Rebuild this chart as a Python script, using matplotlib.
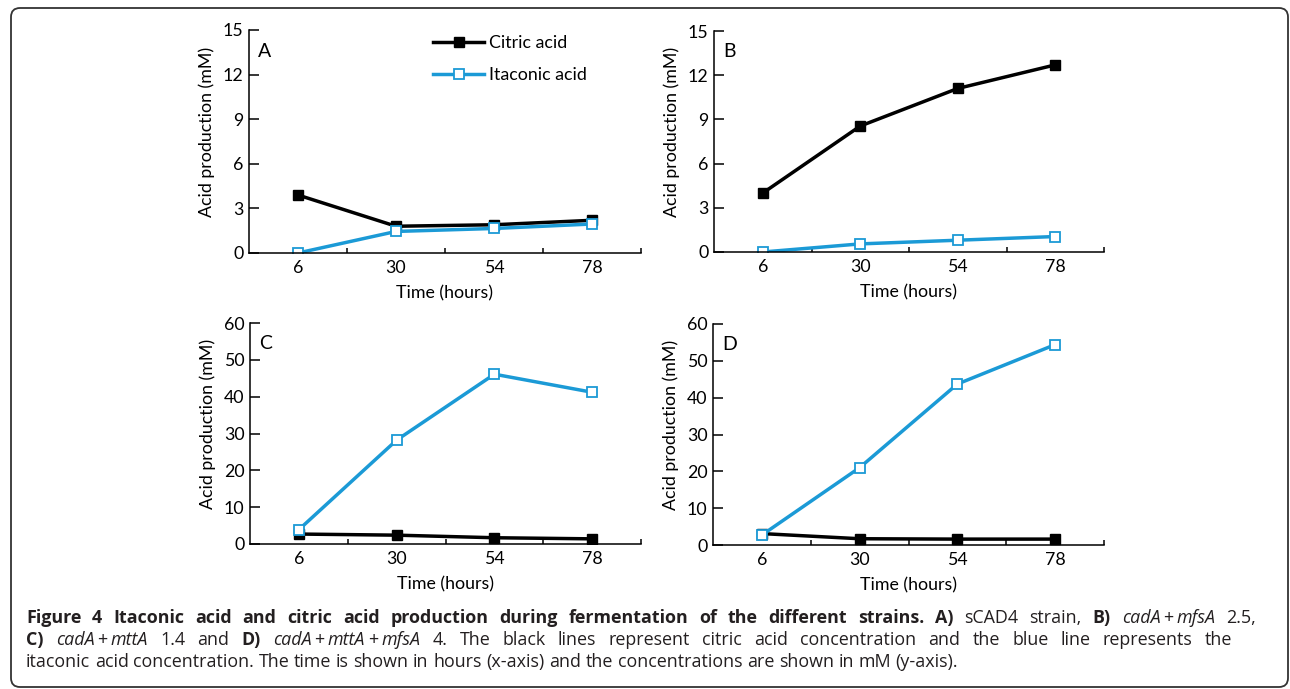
import matplotlib
matplotlib.use("Agg")
import matplotlib.pyplot as plt
from matplotlib.patches import FancyBboxPatch
from matplotlib.transforms import IdentityTransform

# ---------------- data ----------------
time_h = [6, 30, 54, 78]
time_labels = ["6", "30", "54", "78"]

citric_A = [3.9, 1.8, 1.9, 2.2]
itaconic_A = [0.0, 1.45, 1.65, 1.95]
citric_B = [4.0, 8.55, 11.1, 12.7]
itaconic_B = [0.0, 0.55, 0.8, 1.05]
citric_C = [2.7, 2.4, 1.7, 1.4]
itaconic_C = [3.9, 28.2, 46.1, 41.2]
citric_D = [3.1, 1.7, 1.6, 1.6]
itaconic_D = [2.7, 21.0, 43.7, 54.4]

panel_letters = ["A", "B", "C", "D"]
yticks_top = [0, 3, 6, 9, 12, 15]
yticks_bottom = [0, 10, 20, 30, 40, 50, 60]
series_names = ["Citric acid", "Itaconic acid"]

W, H = 1290, 689
FONT = ["Lato", "DejaVu Sans"]
CAP_FONT = ["Open Sans", "DejaVu Sans"]
plt.rcParams["font.family"] = FONT

BLACK = "#000000"
BLUE = "#1b9ad6"
FS = 12.8

fig = plt.figure(figsize=(W / 100, H / 100), dpi=100)

# axes boxes in pixels: left, right, top, bottom
boxes = [(249, 641, 30, 253), (714, 1104, 31, 252),
         (250, 641, 323, 544), (713, 1104, 324, 545)]
data = [(citric_A, itaconic_A, yticks_top),
        (citric_B, itaconic_B, yticks_top),
        (citric_C, itaconic_C, yticks_bottom),
        (citric_D, itaconic_D, yticks_bottom)]

xpos = list(range(len(time_h)))

for i, ((l, r, t, b), (cit, ita, yt)) in enumerate(zip(boxes, data)):
    ax = fig.add_axes([l / W, 1 - b / H, (r - l) / W, (b - t) / H])
    ax.plot(xpos, cit, color=BLACK, lw=2.5, marker="s", ms=7.4,
            mfc=BLACK, mec=BLACK, label=series_names[0], zorder=3)
    ax.plot(xpos, ita, color=BLUE, lw=2.5, marker="s", ms=7.4,
            mfc="white", mec=BLUE, mew=1.3, label=series_names[1], zorder=4)
    ax.set_xlim(-0.5, len(time_h) - 0.5)
    ax.set_ylim(yt[0], yt[-1])
    ax.set_yticks(yt)
    ax.set_yticklabels([str(v) for v in yt])
    ax.set_xticks(xpos)
    ax.set_xticklabels(time_labels)
    ax.set_xticks([p + 0.5 for p in xpos], minor=True)
    ax.tick_params(axis="x", which="major", length=0, pad=5, labelsize=FS)
    ax.tick_params(axis="x", which="minor", direction="in", length=3.5, width=1.1)
    ax.tick_params(axis="y", which="major", direction="in", length=7, width=1.1,
                   pad=4, labelsize=FS)
    for s in ["top", "right"]:
        ax.spines[s].set_visible(False)
    for s in ["left", "bottom"]:
        ax.spines[s].set_linewidth(1.1)
    ax.set_ylabel("Acid production (mM)", fontsize=FS)
    ax.yaxis.set_label_coords(-0.087, 0.545)
    ax.set_xlabel("Time (hours)", fontsize=FS)
    ax.xaxis.set_label_coords(0.5, -0.145)
    ax.text(0.023, 0.905, panel_letters[i], transform=ax.transAxes,
            fontsize=14, ha="left", va="center")
    for sp in ax.spines.values():
        sp.set_zorder(5)
    if i == 0:
        ax.legend(loc="upper left", bbox_to_anchor=(0.469, 0.978), frameon=False,
                  fontsize=FS, handlelength=2.9, handletextpad=0.28,
                  labelspacing=0.92, borderpad=0.0, borderaxespad=0.0)

# ---------------- rounded border ----------------
border = FancyBboxPatch((11, H - 687), 1277, 679,
                        boxstyle="round,pad=0,rounding_size=9",
                        transform=IdentityTransform(), fill=False,
                        ec="#333333", lw=1.3)
fig.patches.append(border)

# ---------------- caption ----------------
# each word is a list of (text, style) runs; b = bold, i = italic, r = regular
def words(text, style):
    return [[(w, style)] for w in text.split()]


CAD_MFS = [("cadA", "i"), ("+", "p"), ("mfsA", "i")]
CAD_MTT = [("cadA", "i"), ("+", "p"), ("mttA", "i")]
CAD_MTT_MFS = [("cadA", "i"), ("+", "p"), ("mttA", "i"), ("+", "p"), ("mfsA", "i")]

line1 = (words("Figure 4 Itaconic acid and citric acid production during "
               "fermentation of the different strains. A)", "b")
         + words("sCAD4 strain,", "r") + [[("B)", "b")], CAD_MFS, [("2.5,", "r")]])
line2 = ([[("C)", "b")], CAD_MTT] + words("1.4 and", "r") + [[("D)", "b")], CAD_MTT_MFS]
         + words("4. The black lines represent citric acid concentration and "
                 "the blue line represents the", "r"))
line3 = words("itaconic acid concentration. The time is shown in hours "
              "(x-axis) and the concentrations are shown in mM (y-axis).", "r")

renderer = fig.canvas.get_renderer()
CAP_COLOR = "#231f20"
PLUS_PAD = 3.0


def make_text(s, style, size):
    kw = dict(fontsize=size, color=CAP_COLOR, family=CAP_FONT,
              va="baseline", ha="left", transform=IdentityTransform())
    if style == "b":
        kw["fontweight"] = "bold"
    elif style == "i":
        kw["fontstyle"] = "italic"
    return fig.text(0, 0, s, **kw)


def width_of(s, style, size):
    t = make_text(s, style, size)
    w = t.get_window_extent(renderer).width
    t.remove()
    return w


# choose caption size so the unjustified last line spans like the reference
base = 11.6
natural = (sum(width_of(w[0][0], "r", base) for w in line3)
           + (len(line3) - 1) * (width_of("a a", "r", base) - width_of("aa", "r", base)))
CAP_SIZE = base * 938.0 / natural
sp_w = width_of("a a", "r", CAP_SIZE) - width_of("aa", "r", CAP_SIZE)


def place_line(line, baseline_y, x0, x1=None):
    items = []
    for word in line:
        runs = []
        wsum = 0.0
        for s, st in word:
            t = make_text(s, st, CAP_SIZE)
            w = t.get_window_extent(renderer).width
            pad = PLUS_PAD if st == "p" else 0.0
            runs.append((t, w, pad))
            wsum += w + 2 * pad
        items.append((runs, wsum))
    total = sum(ws for _, ws in items)
    gap = (x1 - x0 - total) / (len(items) - 1) if x1 is not None else sp_w
    x = x0
    for runs, ws in items:
        for t, w, pad in runs:
            x += pad
            t.set_position((x, H - baseline_y))
            x += w + pad
        x += gap


place_line(line1, 623, 26, 1256)
place_line(line2, 645, 26, 1232)
place_line(line3, 667, 26)

fig.savefig("out.png", dpi=100)
